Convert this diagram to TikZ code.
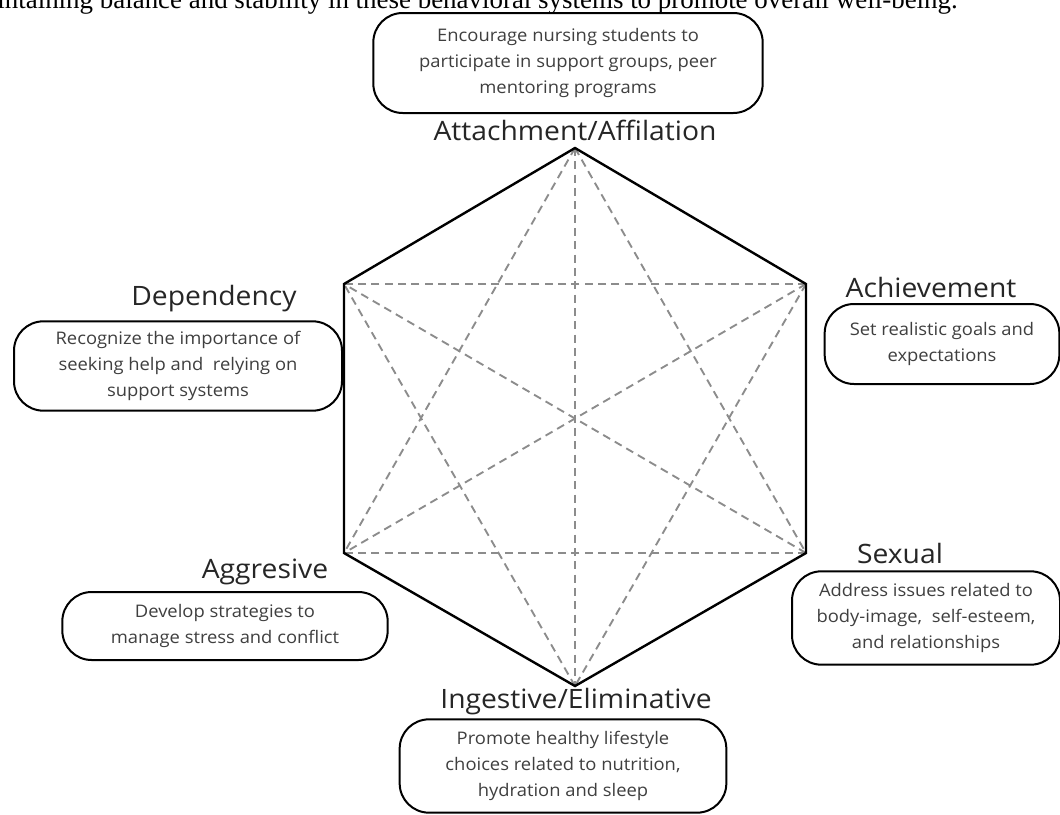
\documentclass[tikz,border=0pt]{standalone}
\usepackage{fontspec}
\setmainfont{Open Sans}[FakeStretch=1.06]
\newfontfamily\timesfont{Liberation Serif}
\usetikzlibrary{positioning}
\definecolor{Ink}{HTML}{262626}
\definecolor{Note}{HTML}{3F3F3F}
\definecolor{Web}{HTML}{8C8C8C}

\begin{document}
\begin{tikzpicture}[x=0.75pt,y=-0.75pt,
  sysname/.style={font=\fontsize{20}{22}\selectfont,text=Ink,inner sep=0pt},
  tipbox/.style={draw,line width=1.5pt,rounded corners=22pt,align=center,
    font=\fontsize{13}{19.2}\selectfont,text=Note,inner sep=0pt},
  web/.style={Web,line width=1.4pt,dash pattern=on 6pt off 4pt},
  rim/.style={line width=1.8pt,line join=miter}]
  \useasboundingbox (0,0) rectangle (1060,814);
  \clip (0,0) rectangle (1060,814);
  \fill[white] (0,0) rectangle (1060,814);

  \node[anchor=base east,inner sep=0pt,font=\timesfont\fontsize{20.2}{22}\selectfont] (intro) at (958,8)
    {maintaining balance and stability in these behavioral systems to promote overall well-being.};

  \coordinate (att) at (575,148);
  \coordinate (ach) at (806,284);
  \coordinate (sex) at (806,553);
  \coordinate (ing) at (575,686);
  \coordinate (agg) at (344,553);
  \coordinate (dep) at (344,284);

  \foreach \a/\b in {att/ing,att/sex,att/agg,ach/dep,ach/agg,ach/ing,sex/dep,sex/agg,ing/dep}
    \draw[web] (\a) -- (\b);
  \draw[rim] (att) -- (ach) -- (sex) -- (ing) -- (agg) -- (dep) -- cycle;

  \node[tipbox,minimum width=292pt,minimum height=75pt] (attbox) at (568,63)
    {Encourage nursing students to\\participate in support groups, peer\\mentoring programs};
  \node[sysname] (attname) at (575,130) {Attachment/Affilation};

  \node[tipbox,minimum width=246pt,minimum height=67pt] (depbox) at (178,366)
    {Recognize the importance of\\seeking help and\ \ relying on\\support systems};
  \node[sysname] (depname) at (214,299) {Dependency};

  \node[tipbox,minimum width=176pt,minimum height=60pt] (achbox) at (942,344)
    {Set realistic goals and\\expectations};
  \node[sysname] (achname) at (931,287) {Achievement};

  \node[tipbox,minimum width=201pt,minimum height=70pt] (sexbox) at (926,618)
    {Address issues related to\\body-image,\ \ self-esteem,\\and relationships};
  \node[sysname] (sexname) at (900,553) {Sexual};

  \node[tipbox,minimum width=244pt,minimum height=51pt] (aggbox) at (225,626)
    {Develop strategies to\\manage stress and conflict};
  \node[sysname] (aggname) at (265,572) {Aggresive};

  \node[tipbox,minimum width=245pt,minimum height=70pt] (ingbox) at (563,766)
    {Promote healthy lifestyle\\choices related to nutrition,\\hydration and sleep};
  \node[sysname] (ingname) at (576,702) {Ingestive/Eliminative};
\end{tikzpicture}
\end{document}
